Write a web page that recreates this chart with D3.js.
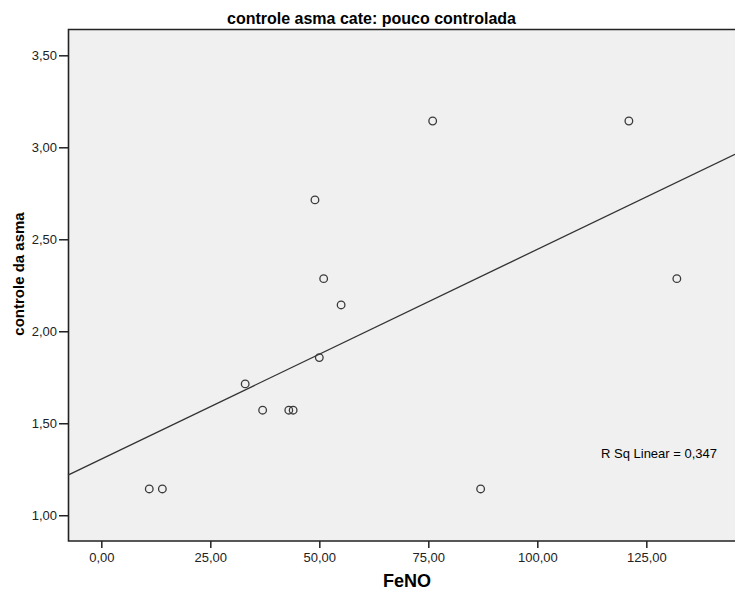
<!DOCTYPE html>
<html>
<head>
<meta charset="utf-8">
<script src="https://cdn.jsdelivr.net/npm/d3@7"></script>
<style>
  body { margin: 0; background: #fff; }
  text { font-family: Arial, "Liberation Sans", sans-serif; fill: #000; }
  .tick text { font-size: 13px; fill: #222; }
</style>
</head>
<body>
<div id="chart"></div>
<script>
var svgWidth = 735;
var svgHeight = 594;

// plot frame (pixels)
var margin = { top: 29, right: 0, bottom: 53, left: 68 };
var width = svgWidth - margin.left - margin.right;
var height = svgHeight - margin.top - margin.bottom;

// data
var feno     = [11, 14, 33, 37, 43, 44, 50, 49, 51, 55, 76, 121, 132, 87];
var controle = [1.143, 1.143, 1.714, 1.571, 1.571, 1.571, 1.857, 2.714, 2.286, 2.143, 3.143, 3.143, 2.286, 1.143];

var xTicks = [0, 25, 50, 75, 100, 125];
var yTicks = [1.0, 1.5, 2.0, 2.5, 3.0, 3.5];
var xDomain = [-7.64, 145.34];
var yDomain = [0.86, 3.643];

var titleText = "controle asma cate: pouco controlada";
var xLabelText = "FeNO";
var yLabelText = "controle da asma";
var r2Text = "R Sq Linear = 0,347";

var svg = d3.select("#chart")
  .append("svg")
  .attr("width", svgWidth)
  .attr("height", svgHeight);

var chartGroup = svg.append("g")
  .attr("transform", `translate(${margin.left}, ${margin.top})`);

var xScale = d3.scaleLinear().domain(xDomain).range([0, width]);
var yScale = d3.scaleLinear().domain(yDomain).range([height, 0]);

var fmt = function(d) { return d3.format(".2f")(d).replace(".", ","); };

// background
chartGroup.append("rect")
  .attr("width", width)
  .attr("height", height)
  .attr("fill", "#f0f0f0");

// axes
var bottomAxis = d3.axisBottom(xScale).tickValues(xTicks).tickFormat(fmt)
  .tickSizeInner(7).tickSizeOuter(0).tickPadding(5);
var leftAxis = d3.axisLeft(yScale).tickValues(yTicks).tickFormat(fmt)
  .tickSizeInner(9).tickSizeOuter(0).tickPadding(2);

var xAxis = chartGroup.append("g")
  .attr("transform", `translate(0, ${height})`)
  .call(bottomAxis);
var yAxis = chartGroup.append("g").call(leftAxis);

[xAxis, yAxis].forEach(function(ax) {
  ax.select(".domain").remove();
  ax.selectAll(".tick line").attr("stroke", "#222").attr("stroke-width", 1.5);
});

// frame lines: top, left, bottom
chartGroup.append("path")
  .attr("d", `M${width},0.5 H0.5 V${height} H${width}`)
  .attr("fill", "none")
  .attr("stroke", "#222")
  .attr("stroke-width", 1.6);

// linear fit
var mx = d3.mean(feno), my = d3.mean(controle);
var sxy = d3.sum(feno, (d, i) => (d - mx) * (controle[i] - my));
var sxx = d3.sum(feno, d => (d - mx) * (d - mx));
var slope = sxy / sxx;
var intercept = my - slope * mx;

chartGroup.append("line")
  .attr("x1", xScale(xDomain[0]))
  .attr("y1", yScale(intercept + slope * xDomain[0]))
  .attr("x2", xScale(xDomain[1]))
  .attr("y2", yScale(intercept + slope * xDomain[1]))
  .attr("stroke", "#333")
  .attr("stroke-width", 1.3);

// points
chartGroup.selectAll("circle")
  .data(feno)
  .enter()
  .append("circle")
  .attr("cx", d => xScale(d))
  .attr("cy", (d, i) => yScale(controle[i]))
  .attr("r", 3.8)
  .attr("fill", "none")
  .attr("stroke", "#3a3a3a")
  .attr("stroke-width", 1.3);

// R squared
chartGroup.append("text")
  .attr("x", 533)
  .attr("y", 429)
  .attr("font-size", "13px")
  .attr("fill", "#222")
  .text(r2Text);

// titles
svg.append("text")
  .attr("x", 227)
  .attr("y", 24)
  .attr("font-size", "16px")
  .attr("font-weight", "bold")
  .text(titleText);

svg.append("text")
  .attr("x", 407)
  .attr("y", 587)
  .attr("text-anchor", "middle")
  .attr("font-size", "18px")
  .attr("font-weight", "bold")
  .text(xLabelText);

svg.append("text")
  .attr("transform", "translate(24, 274) rotate(-90)")
  .attr("text-anchor", "middle")
  .attr("font-size", "15px")
  .attr("font-weight", "bold")
  .text(yLabelText);
</script>
</body>
</html>
